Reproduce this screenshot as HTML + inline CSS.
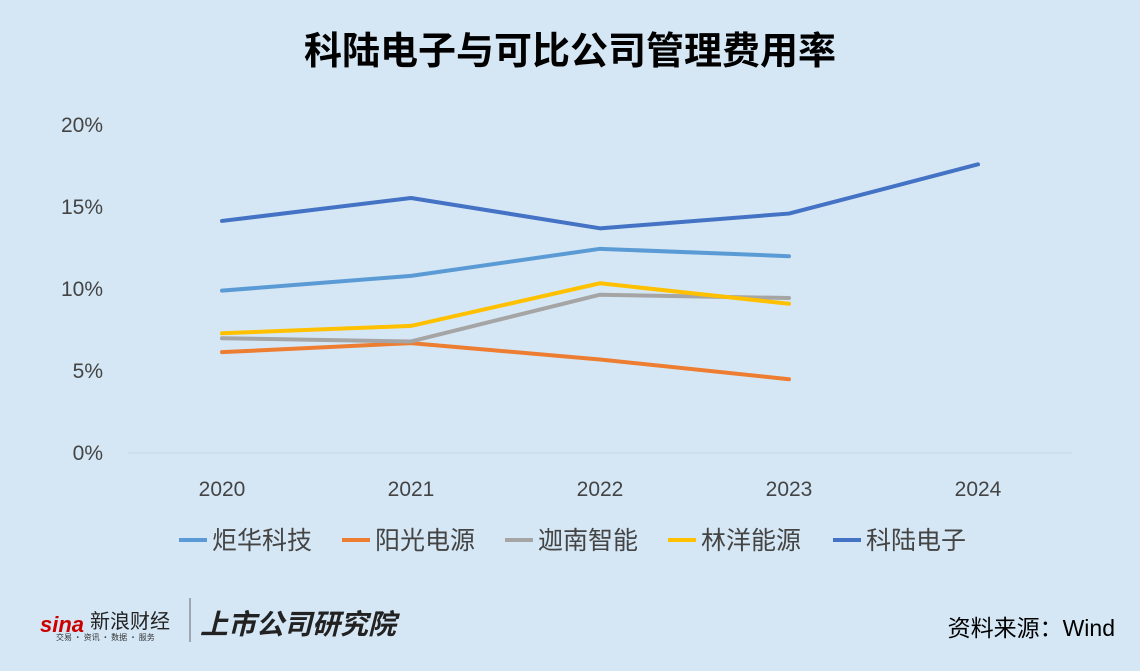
<!DOCTYPE html>
<html><head><meta charset="utf-8"><style>
body{margin:0;width:1140px;height:671px;background:#d5e7f5;overflow:hidden;font-family:"Liberation Sans","Noto Sans CJK SC",sans-serif;}
</style></head><body>
<svg id="chart" width="1140" height="671" style="position:absolute;left:0;top:0">
<text x="570" y="64" text-anchor="middle" font-size="38" font-weight="bold" fill="#000" font-family="Liberation Sans, Noto Sans CJK SC, sans-serif">科陆电子与可比公司管理费用率</text>
<g id="grid"></g><g id="ylabels"></g><g id="xlabels"></g><g id="series"></g><g id="legend"></g>
<g>
<text x="40" y="632" font-size="22" font-weight="bold" font-style="italic" fill="#c00" font-family="Liberation Sans, sans-serif">sina</text>
<text x="90" y="628" font-size="20" fill="#222" font-family="Liberation Sans, Noto Sans CJK SC, sans-serif">新浪财经</text>
<text x="56" y="640" font-size="8" fill="#333" font-family="Noto Sans CJK SC, sans-serif">交易 · 资讯 · 数据 · 服务</text>
<line x1="190" y1="598" x2="190" y2="642" stroke="#666" stroke-width="1"/>
<text x="200" y="634" font-size="28" font-weight="bold" font-style="italic" fill="#222" font-family="Noto Sans CJK SC, sans-serif">上市公司研究院</text>
</g>
<text x="1115" y="636" text-anchor="end" font-size="23" fill="#000" font-family="Liberation Sans, Noto Sans CJK SC, sans-serif">资料来源：Wind</text>
</svg>
<script>
const years=["2020","2021","2022","2023","2024"];
const yTicks=[0,5,10,15,20];
const seriesNames=["炬华科技","阳光电源","迦南智能","林洋能源","科陆电子"];
const seriesColors=["#5b9bd5","#ed7d31","#a5a5a5","#ffc000","#4472c4"];
const juhua=[9.9,10.8,12.45,12.0];
const yangguang=[6.15,6.7,5.7,4.5];
const jianan=[7.0,6.8,9.65,9.45];
const linyang=[7.3,7.75,10.35,9.1];
const kelu=[14.15,15.55,13.7,14.6,17.6];
const allSeries=[juhua,yangguang,jianan,linyang,kelu];
const NS="http://www.w3.org/2000/svg";
const xS=i=>222+i*189;
const yS=v=>453-v*16.4;
function mk(tag,attrs,parent,txt){const e=document.createElementNS(NS,tag);for(const k in attrs)e.setAttribute(k,attrs[k]);if(txt!==undefined)e.textContent=txt;document.getElementById(parent).appendChild(e);return e;}
const g=mk("line",{x1:128,x2:1072,y1:yS(0),y2:yS(0),stroke:"#c8d4de","stroke-width":1},"grid");


yTicks.forEach(t=>{const e=mk("text",{x:103,y:yS(t)+7,"text-anchor":"end","font-size":21,fill:"#444","font-family":"Liberation Sans, sans-serif"},"ylabels",t+"%");

});
years.forEach((y,i)=>{const e=mk("text",{x:xS(i),y:496,"text-anchor":"middle","font-size":21,fill:"#444","font-family":"Liberation Sans, sans-serif"},"xlabels",y);

});
allSeries.forEach((s,k)=>{const p=mk("polyline",{points:s.map((v,i)=>xS(i)+","+yS(v)).join(" "),fill:"none",stroke:seriesColors[k],"stroke-width":4,"stroke-linejoin":"round","stroke-linecap":"round"},"series");

});
const lx=[179,342,505,668,833];
seriesNames.forEach((n,k)=>{const gl=mk("g",{},"legend");


const l=document.createElementNS(NS,"line");l.setAttribute("x1",lx[k]);l.setAttribute("x2",lx[k]+28);l.setAttribute("y1",540);l.setAttribute("y2",540);l.setAttribute("stroke",seriesColors[k]);l.setAttribute("stroke-width",4);gl.appendChild(l);
const t=document.createElementNS(NS,"text");t.setAttribute("x",lx[k]+33);t.setAttribute("y",549);t.setAttribute("font-size",25);t.setAttribute("fill","#444");t.setAttribute("font-family","Liberation Sans, Noto Sans CJK SC, sans-serif");t.textContent=n;gl.appendChild(t);});
</script>
</body></html>
